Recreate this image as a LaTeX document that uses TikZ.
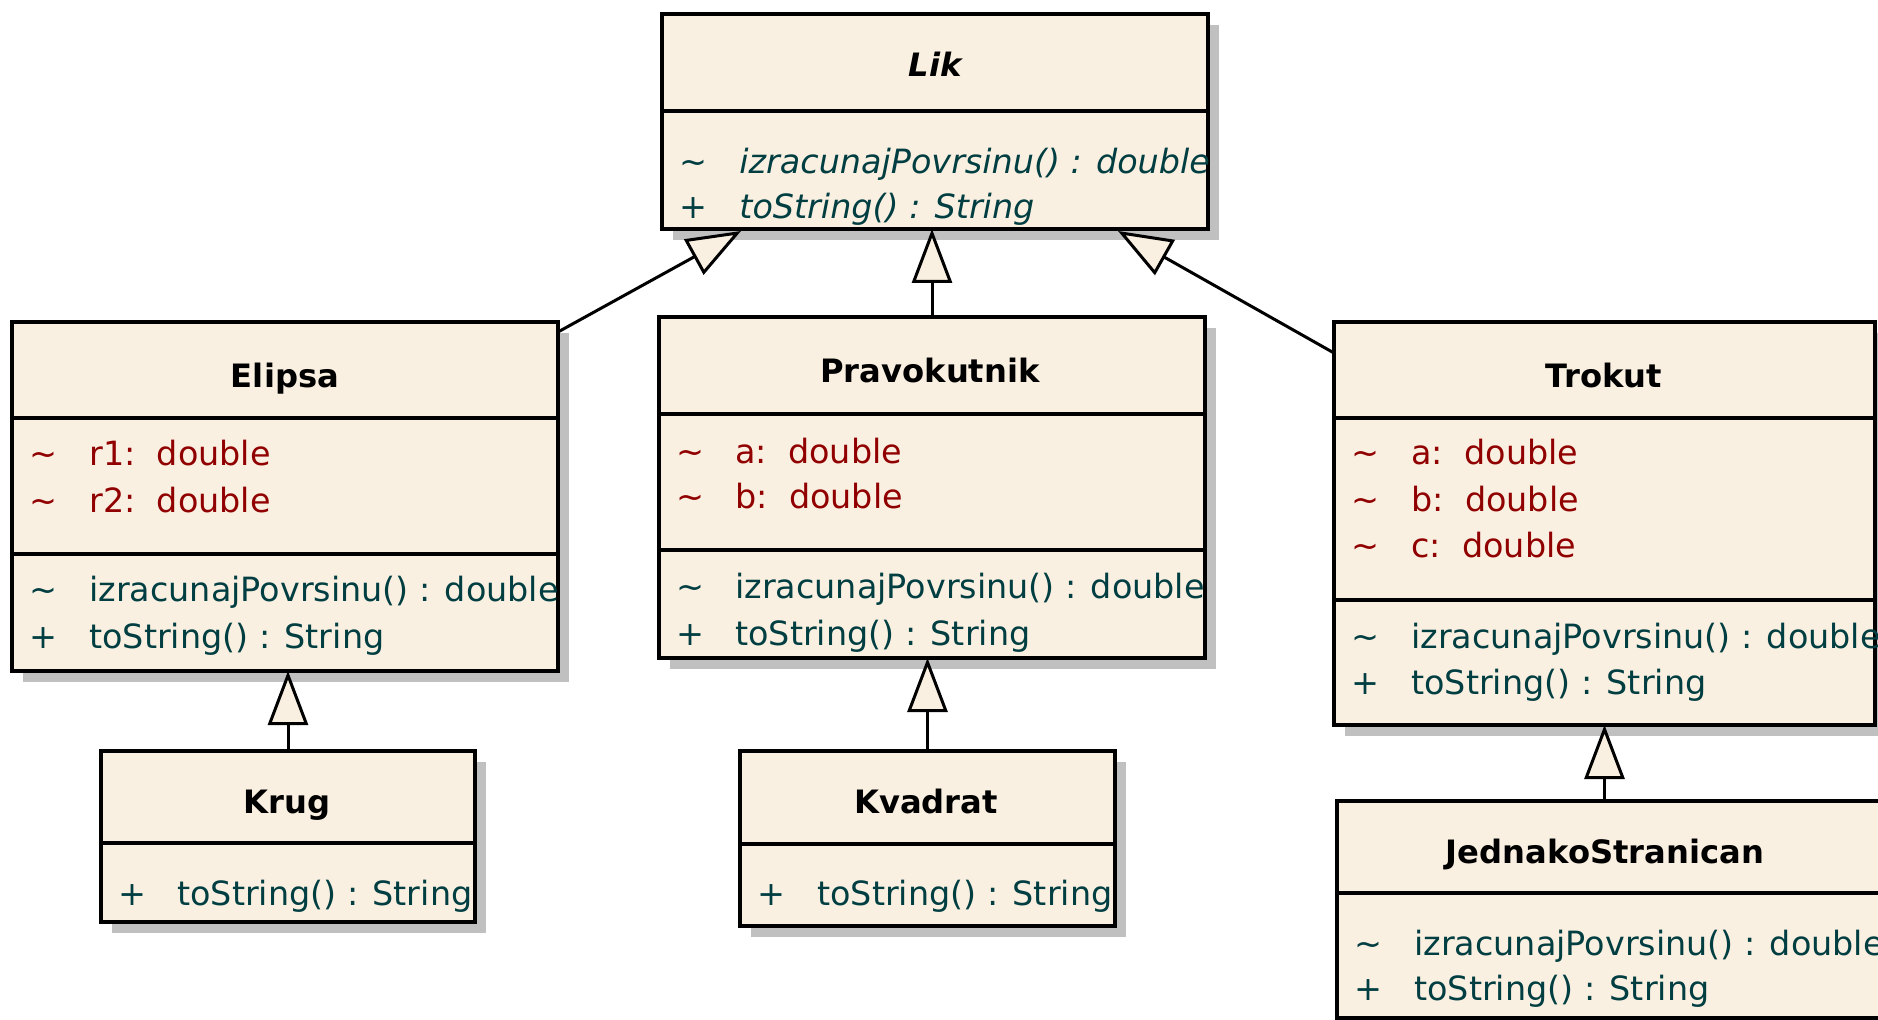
\documentclass[tikz,border=0pt]{standalone}
\usepackage{fontspec}
\setmainfont{DejaVu Sans}
\usetikzlibrary{arrows.meta,fit}
\definecolor{clsfill}{RGB}{250,240,225}
\definecolor{shadowfill}{RGB}{192,192,192}
\definecolor{attrcol}{RGB}{145,0,0}
\definecolor{methcol}{RGB}{0,62,66}
\newcommand\umlcls[5]{%
  \fill[shadowfill] (#2+11,#3+11) rectangle (#4+11,#5+11);
  \node[cls, fit={(#2,#3) (#4,#5)}] (#1) {};}
\tikzset{
  cls/.style={rectangle, draw=black, line width=2pt, fill=clsfill, inner sep=0pt, outer sep=0pt},
  sepline/.style={line width=2pt},
  ttl/.style={anchor=base, inner sep=0pt, font=\bfseries\fontsize{16.1}{20}\selectfont},
  attr/.style={anchor=base west, inner sep=0pt, text=attrcol, font=\fontsize{16.7}{20}\selectfont},
  meth/.style={anchor=base west, inner sep=0pt, text=methcol, font=\fontsize{16.7}{20}\selectfont},
  gen/.style={line width=1.5pt, -{Triangle[length=27pt,width=20pt,fill=clsfill,line width=1.5pt]}},
}
\begin{document}
\begin{tikzpicture}[x=0.5pt,y=-0.5pt]
\fill[white] (0,0) rectangle (1878,1020);
\clip (0,0) rectangle (1878,1020);

% ---------- Lik ----------
\umlcls{lik}{662}{14}{1208}{229}
\draw[sepline] (662,111) -- (1208,111);
\node[ttl] (likT) at (935,77) {\itshape Lik};
\node[meth] (likS1) at (679,174) {\textasciitilde};
\node[meth] (likM1) at (739,174) {\itshape izracunajPovrsinu() : double};
\node[meth] (likS2) at (679,219) {+};
\node[meth] (likM2) at (739,219) {\itshape toString() : String};

% ---------- Elipsa ----------
\umlcls{eli}{12}{322}{558}{671}
\draw[sepline] (12,418) -- (558,418);
\draw[sepline] (12,554) -- (558,554);
\node[ttl] (eliT) at (285,388) {Elipsa};
\node[attr] (eliS1) at (29,466) {\textasciitilde};
\node[attr] (eliA1) at (89,466) {r1:\ \ double};
\node[attr] (eliS2) at (29,513) {\textasciitilde};
\node[attr] (eliA2) at (89,513) {r2:\ \ double};
\node[meth] (eliS3) at (29,602) {\textasciitilde};
\node[meth] (eliM1) at (89,602) {izracunajPovrsinu() : double};
\node[meth] (eliS4) at (29,648) {+};
\node[meth] (eliM2) at (89,648) {toString() : String};

% ---------- Pravokutnik ----------
\umlcls{prav}{659}{317}{1205}{658}
\draw[sepline] (659,414) -- (1205,414);
\draw[sepline] (659,550) -- (1205,550);
\node[ttl] (pravT) at (930,383) {Pravokutnik};
\node[attr] (pravS1) at (676,464) {\textasciitilde};
\node[attr] (pravA1) at (735,464) {a:\ \ double};
\node[attr] (pravS2) at (676,509) {\textasciitilde};
\node[attr] (pravA2) at (735,509) {b:\ \ double};
\node[meth] (pravS3) at (676,599) {\textasciitilde};
\node[meth] (pravM1) at (735,599) {izracunajPovrsinu() : double};
\node[meth] (pravS4) at (676,646) {+};
\node[meth] (pravM2) at (735,646) {toString() : String};

% ---------- Trokut ----------
\umlcls{tro}{1334}{322}{1875}{725}
\draw[sepline] (1334,418) -- (1875,418);
\draw[sepline] (1334,600) -- (1875,600);
\node[ttl] (troT) at (1604,388) {Trokut};
\node[attr] (troS1) at (1351,465) {\textasciitilde};
\node[attr] (troA1) at (1411,465) {a:\ \ double};
\node[attr] (troS2) at (1351,512) {\textasciitilde};
\node[attr] (troA2) at (1411,512) {b:\ \ double};
\node[attr] (troS3) at (1351,558) {\textasciitilde};
\node[attr] (troA3) at (1411,558) {c:\ \ double};
\node[meth] (troS4) at (1351,648) {\textasciitilde};
\node[meth] (troM1) at (1411,648) {izracunajPovrsinu() : double};
\node[meth] (troS5) at (1351,694) {+};
\node[meth] (troM2) at (1411,694) {toString() : String};

% ---------- Krug ----------
\umlcls{krug}{101}{751}{475}{922}
\draw[sepline] (101,843) -- (475,843);
\node[ttl] (krugT) at (287,813) {Krug};
\node[meth] (krugS1) at (118,905) {+};
\node[meth] (krugM1) at (177,905) {toString() : String};

% ---------- Kvadrat ----------
\umlcls{kva}{740}{751}{1115}{926}
\draw[sepline] (740,844) -- (1115,844);
\node[ttl] (kvaT) at (926,813) {Kvadrat};
\node[meth] (kvaS1) at (757,905) {+};
\node[meth] (kvaM1) at (817,905) {toString() : String};

% ---------- JednakoStranican ----------
\umlcls{js}{1337}{801}{1882}{1018}
\draw[sepline] (1337,893) -- (1882,893);
\node[ttl] (jsT) at (1605,863) {JednakoStranican};
\node[meth] (jsS1) at (1354,955) {\textasciitilde};
\node[meth] (jsM1) at (1414,955) {izracunajPovrsinu() : double};
\node[meth] (jsS2) at (1354,1000) {+};
\node[meth] (jsM2) at (1414,1000) {toString() : String};

% ---------- generalizations ----------
\coordinate (likL) at (741,231);
\coordinate (likR) at (1118,231);
\coordinate (eliOut) at (558,332);
\coordinate (troOut) at (1334,353);
\draw[gen] (eliOut) -- (likL);
\draw[gen] (troOut) -- (likR);
\draw[gen] (prav.north) -- (prav.north |- lik.south);
\draw[gen] (krug.north) -- (krug.north |- eli.south);
\draw[gen] (kva.north) -- (kva.north |- prav.south);
\draw[gen] (js.north -| tro.south) -- (tro.south);
\end{tikzpicture}
\end{document}
